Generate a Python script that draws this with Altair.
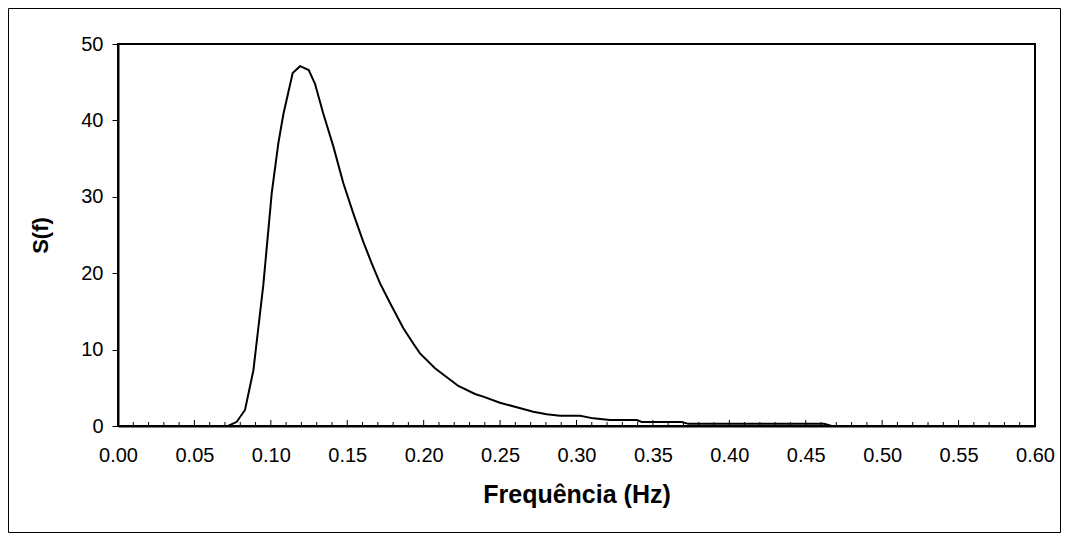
import altair as alt
import pandas as pd

# Spectrum S(f)
freq = [0.000, 0.072, 0.0777, 0.0831, 0.0886, 0.0951, 0.1006, 0.1049, 0.1082,
        0.1143, 0.1191, 0.1248, 0.1289, 0.1343, 0.1409, 0.1474, 0.1540, 0.1605,
        0.1660, 0.1714, 0.1780, 0.1867, 0.1932, 0.1976, 0.2074, 0.2227, 0.2336,
        0.2390, 0.2499, 0.2609, 0.2717, 0.2805, 0.2892, 0.3023, 0.3110, 0.3219,
        0.3394, 0.3427, 0.3689, 0.3732, 0.4620, 0.4670, 0.600]
spec = [0.0, 0.0, 0.55, 2.1, 7.3, 18.5, 30.5, 37.0, 40.8,
        46.2, 47.1, 46.6, 44.8, 40.9, 36.6, 31.8, 27.8, 24.1,
        21.3, 18.7, 16.1, 12.8, 10.8, 9.5, 7.55, 5.24, 4.19,
        3.84, 3.05, 2.45, 1.87, 1.53, 1.33, 1.33, 1.0, 0.79,
        0.79, 0.52, 0.52, 0.28, 0.28, 0.0, 0.0]

x_major = [0.00, 0.05, 0.10, 0.15, 0.20, 0.25, 0.30, 0.35, 0.40, 0.45, 0.50, 0.55, 0.60]
x_minor = [round(i / 100, 2) for i in range(1, 60) if i % 5 != 0]
y_ticks = [0, 10, 20, 30, 40, 50]

df = pd.DataFrame({"f": freq, "S": spec})
df_major = pd.DataFrame({"t": x_major[1:-1]})
df_minor = pd.DataFrame({"t": x_minor})

W, H = 917, 382
PAD = {"left": 110, "top": 36, "right": 26, "bottom": 107}
FONT = "Liberation Sans"

xscale = alt.Scale(domain=[0, 0.6], nice=False, zero=False)
yscale = alt.Scale(domain=[0, 50], nice=False)

line = alt.Chart(df).mark_line(color="black", strokeWidth=2).encode(
    x=alt.X("f:Q", scale=xscale,
            axis=alt.Axis(title="Frequência (Hz)", values=x_major, format=".2f",
                          ticks=False, labelPadding=19, titlePadding=17,
                          domainColor="black", domainWidth=2,
                          labelFontSize=20, titleFontSize=25, labelColor="black",
                          titleColor="black", labelFont=FONT, titleFont=FONT,
                          titleFontWeight="bold", grid=False, labelFlush=False)),
    y=alt.Y("S:Q", scale=yscale,
            axis=alt.Axis(title="S(f)", values=y_ticks, format="d",
                          tickSize=6, tickColor="black", tickWidth=1,
                          labelPadding=9, titlePadding=28,
                          domainColor="black", domainWidth=2,
                          labelFontSize=20, titleFontSize=22, labelColor="black",
                          titleColor="black", labelFont=FONT, titleFont=FONT,
                          titleFontWeight="bold", grid=False)),
)

minor = alt.Chart(df_minor).mark_rule(color="black", strokeWidth=1).encode(
    x=alt.X("t:Q", scale=xscale),
    y=alt.value(H - 4),
    y2=alt.value(H),
)
major = alt.Chart(df_major).mark_rule(color="black", strokeWidth=1).encode(
    x=alt.X("t:Q", scale=xscale),
    y=alt.value(H - 6),
    y2=alt.value(H),
)

border = alt.Chart(pd.DataFrame({"a": [0]})).mark_rect(
    fillOpacity=0, stroke="black", strokeWidth=1
).encode(
    x=alt.value(-PAD["left"] + 0.5),
    x2=alt.value(W + PAD["right"] - 0.5),
    y=alt.value(-PAD["top"] + 0.5),
    y2=alt.value(H + PAD["bottom"] - 0.5),
)

chart = alt.layer(border, minor, major, line).properties(
    width=W, height=H,
    autosize=alt.AutoSizeParams(type="none"),
    padding=PAD,
    background="white",
).configure_view(stroke="black", strokeWidth=2)

chart.save("out.html", embed_options={"renderer": "svg", "actions": False})
